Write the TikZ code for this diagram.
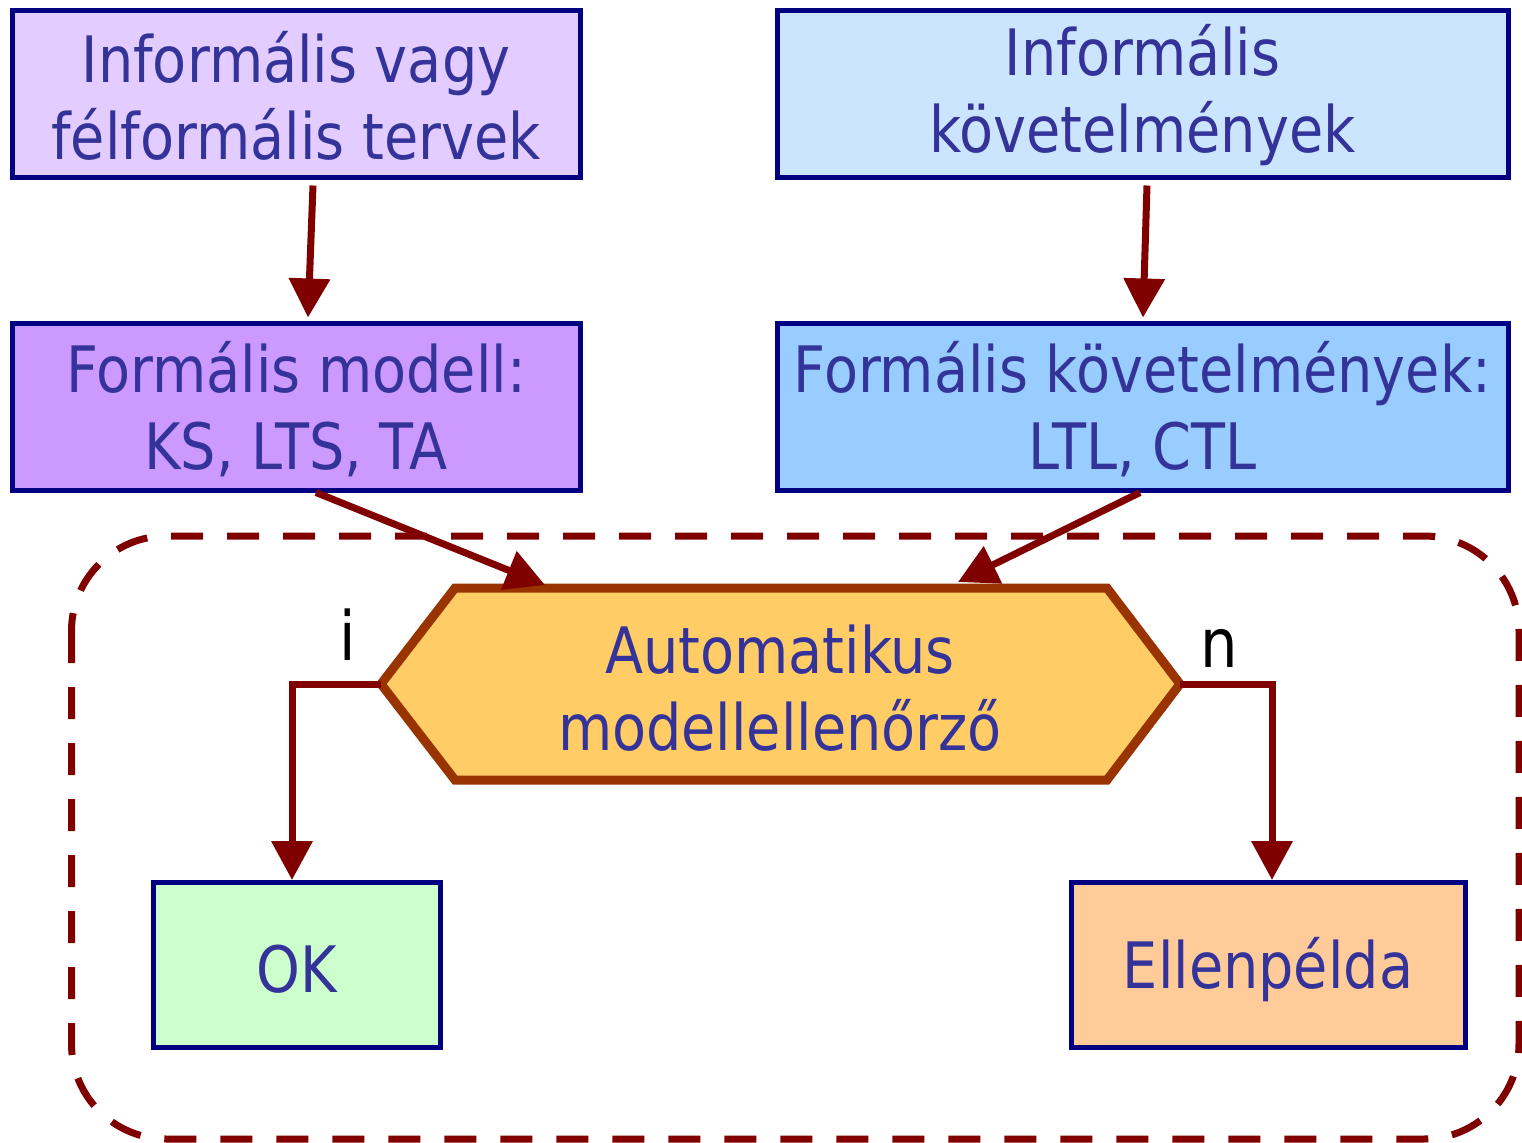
\documentclass[tikz,border=0pt]{standalone}
\usepackage{fontspec}
\setmainfont{DejaVu Sans}[FakeStretch=0.87]
\usetikzlibrary{arrows.meta,calc}
\definecolor{txtc}{HTML}{333399}
\definecolor{bordc}{HTML}{000080}
\definecolor{arrc}{HTML}{800000}
\definecolor{hexc}{HTML}{993300}
\definecolor{hexfill}{HTML}{FFCC66}
\definecolor{fA}{HTML}{E3CCFF}
\definecolor{fB}{HTML}{CCE5FF}
\definecolor{fC}{HTML}{CC99FF}
\definecolor{fD}{HTML}{99CCFF}
\definecolor{fOK}{HTML}{CCFFCC}
\definecolor{fEL}{HTML}{FFCC99}
\newcommand{\bigfont}{\fontsize{32pt}{38.5pt}\selectfont}
\begin{document}
\begin{tikzpicture}[x=0.5pt,y=-0.5pt,
  box/.style={draw=bordc, line width=2.5pt, inner sep=0pt},
  wide/.style={box, minimum width=284pt, minimum height=83.5pt},
  wider/.style={box, minimum width=365.5pt, minimum height=83.5pt},
  txt/.style={text=txtc, align=center, font=\bigfont, inner sep=0pt},
  arr/.style={draw=arrc, line width=3.5pt, -{Triangle[length=19.5pt,width=20pt]}},
  lbl/.style={font=\fontsize{34pt}{40pt}\selectfont, text=black, inner sep=0pt}]
\useasboundingbox (0,0) rectangle (1522,1142);
% dashed frame
\draw[arrc, line width=3.5pt, dash pattern=on 16pt off 12pt, rounded corners=47.5pt]
  (71.5,536) rectangle (1519,1139);
% boxes
\node[wide, fill=fA] (inf) at (296,93.5) {};
\node[wider, fill=fB] (ireq) at (1142.5,93.5) {};
\node[wide, fill=fC] (fm) at (296,406.5) {};
\node[wider, fill=fD] (freq) at (1142.5,406.5) {};
\node[box, fill=fOK, minimum width=143.5pt, minimum height=82.5pt] (ok) at (296.5,964.5) {};
\node[box, fill=fEL, minimum width=197pt, minimum height=82.5pt] (el) at (1268,964.5) {};
\node[txt] (tinf) at ($(inf)+(0,2)$) {Informális vagy\\félformális tervek};
\node[txt] (tireq) at ($(ireq)+(0,2)$) {Informális\\követelmények};
\node[txt] (tfm) at ($(fm)+(0,3)$) {Formális modell:\\KS, LTS, TA};
\node[txt] (tfreq) at ($(freq)+(0,3)$) {Formális követelmények:\\LTL, CTL};
\node[txt] (tok) at ($(ok)+(0,5)$) {OK};
\node[txt] (tel) at ($(el)+(0,5)$) {Ellenpélda};
% hexagon
\coordinate (hl) at (381,684);
\coordinate (htl) at (455,588);
\coordinate (htr) at (1107,588);
\coordinate (hr) at (1180,684);
\coordinate (hbr) at (1107,780);
\coordinate (hbl) at (455,780);
\draw[hexc, fill=hexfill, line width=4.5pt] (hl) -- (htl) -- (htr) -- (hr) -- (hbr) -- (hbl) -- cycle;
\node[txt] (hex) at (780,688) {Automatikus\\modellellenőrző};
% connectors
\coordinate (a1s) at ($(inf.south)+(17,6)$);
\coordinate (a1e) at ($(fm.north)+(12,-3)$);
\coordinate (a2s) at ($(ireq.south)+(4.5,6)$);
\coordinate (a2e) at ($(freq.north)+(0.5,-3)$);
\coordinate (a3s) at ($(fm.south)+(20,0)$);
\coordinate (a3e) at (545,585);
\coordinate (a4s) at ($(freq.south)+(-2.5,0)$);
\coordinate (a4e) at (958,582);
\coordinate (okin) at (292,880);
\coordinate (elin) at (1272,880);
\draw[arr] (a1s) -- (a1e);
\draw[arr] (a2s) -- (a2e);
\draw[arr] (a3s) -- (a3e);
\draw[arr] (a4s) -- (a4e);
\draw[arr] (hl) -| (okin);
\draw[arr] (hr) -| (elin);
\node[lbl, anchor=base] (li) at (348,660) {i};
\node[lbl, anchor=base] (ln) at (1219,667) {n};
\end{tikzpicture}
\end{document}
